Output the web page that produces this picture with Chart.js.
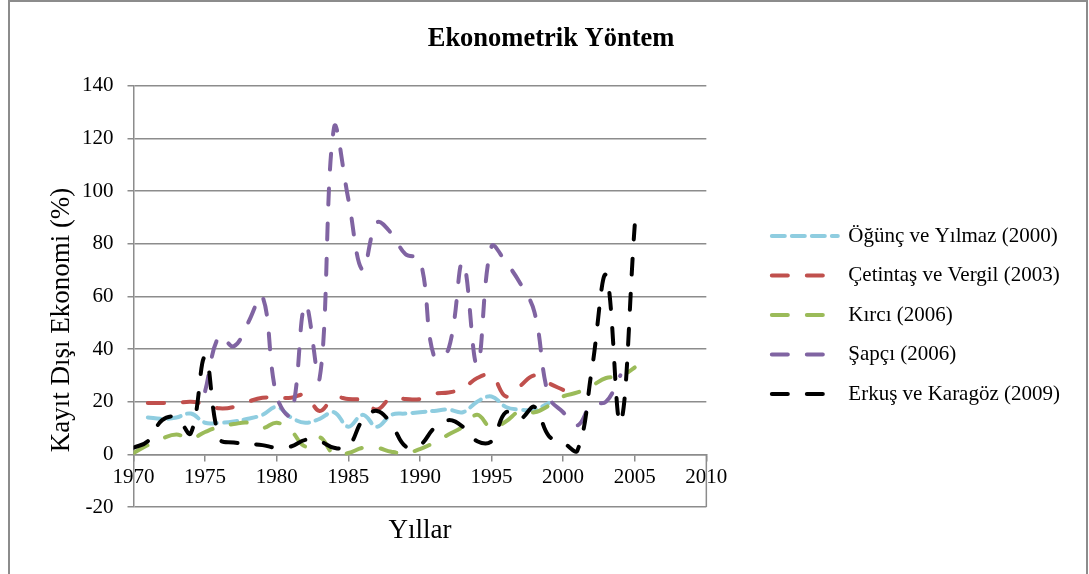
<!DOCTYPE html>
<html>
<head>
<meta charset="utf-8">
<title>Ekonometrik Yöntem</title>
<script src="https://cdn.jsdelivr.net/npm/chart.js@4.4.1/dist/chart.umd.min.js"></script>
<style>
  html, body { margin: 0; padding: 0; background: #fff; }
  canvas { display: block; }
</style>
</head>
<body>
<canvas id="chart" width="1089" height="574"></canvas>
<script>
// years on the x axis (one value per year, null = no estimate)
const years = [1970, 1971, 1972, 1973, 1974, 1975, 1976, 1977, 1978, 1979,
               1980, 1981, 1982, 1983, 1984, 1985, 1986, 1987, 1988, 1989,
               1990, 1991, 1992, 1993, 1994, 1995, 1996, 1997, 1998, 1999,
               2000, 2001, 2002, 2003, 2004, 2005];

const ogunc = [null, 14, 13.5, 14, 15.5, 12, 12, 12.5, 13.5, 15,
               18, 14, 12, 13.5, 16, 10.5, 15, 10.5, 15, 15.5,
               16, 16.5, 17, 16, 20, 22, 18, 17, 17, 19.5,
               null, null, null, null, null, null];

const cetintas = [null, 19.5, 19.5, 19.5, 20, 19, 17.5, 18, 20, 21.5,
                  21.5, 21.5, 22.5, 16.5, 21.5, 21, 20.5, 17, 21.5, 21,
                  21, 23, 23.5, 25, 29, 30, 22, 26, 30, 27,
                  24.5, null, null, null, null, null];

const kirci = [0.5, 3.5, 6, 7.5, 6, 8.5, 10.5, 11.5, 12, 10,
               12, 9, 3, 6.5, 0, 0.5, 2.5, 2.5, 1, 0.5,
               2, 4.5, 7.5, 10.5, 15, 10, 12.5, 16.5, 16, 18.5,
               22, 23.5, 26, 29, 29.5, 33];

const sapci = [null, null, null, null, null, 24, 45, 41, 50, 60,
               22, 15, 57, 29, 124, 97, 70, 88, 84, 76,
               74, 37, 40, 73, 34, 79, 73, 65, 54, 22,
               16, 11, 19, 20, 30, null];

const erkus = [2.5, 5, 13, 14, 8, 37, 6, 4.5, 4, 3.5,
               2.5, 3, 5.5, 5, 2.5, 3, 13, 16.5, 11.5, 3,
               3.5, 10, 13, 10.5, 5, 5, 16, 13.5, 18, 7,
               4.5, 1.5, 32, 68, 12, 87];

const xTicks = [1970, 1975, 1980, 1985, 1990, 1995, 2000, 2005, 2010];
const yTicks = [-20, 0, 20, 40, 60, 80, 100, 120, 140];

const serif = "'Liberation Serif', 'Times New Roman', serif";
const gridGray = '#8c8c8c';

function toPoints(values) {
  return years
    .map((yr, i) => ({ x: yr, y: values[i] }))
    .filter(p => p.y !== null);
}

// series look (Excel dashed smooth lines)
const series = [
  { label: 'Öğünç ve Yılmaz (2000)', values: ogunc, color: '#8fcde0', dash: [13, 7] },
  { label: 'Çetintaş ve Vergil (2003)', values: cetintas, color: '#c0504d', dash: [16, 19] },
  { label: 'Kırcı (2006)', values: kirci, color: '#9bbb59', dash: [16, 19] },
  { label: 'Şapçı (2006)', values: sapci, color: '#8064a2', dash: [16, 19] },
  { label: 'Erkuş ve Karagöz (2009)', values: erkus, color: '#000000', dash: [16, 19] }
];

const datasets = series.map((s, i) => ({
  label: s.label,
  data: toPoints(s.values),
  borderColor: s.color,
  backgroundColor: s.color,
  borderWidth: 4,
  borderDash: s.dash,
  borderCapStyle: 'round',
  pointRadius: 0,
  pointHoverRadius: 0,
  tension: 0.4,
  fill: false,
  order: series.length - 1 - i   // later series drawn on top, like Excel
}));

// outer frame of the chart object
const framePlugin = {
  id: 'frame',
  beforeDraw(chart) {
    const ctx = chart.ctx;
    ctx.save();
    ctx.fillStyle = '#fff';
    ctx.fillRect(0, 0, chart.width, chart.height);
    ctx.strokeStyle = gridGray;
    ctx.lineWidth = 2;
    ctx.strokeRect(9, 1, chart.width - 11, chart.height + 10);
    ctx.restore();
  }
};

// axis titles: "Yıllar" sits under the -20 line, the y title is a bit below centre
const axisTitlePlugin = {
  id: 'axisTitles',
  afterDraw(chart) {
    const { ctx, chartArea, scales } = chart;
    ctx.save();
    // short closing line at the right end, between 0 and -20
    const xr = scales.x.getPixelForValue(xTicks[xTicks.length - 1]);
    ctx.strokeStyle = gridGray;
    ctx.lineWidth = 1.5;
    ctx.beginPath();
    ctx.moveTo(xr, scales.y.getPixelForValue(0));
    ctx.lineTo(xr, scales.y.getPixelForValue(yTicks[0]));
    ctx.stroke();

    ctx.font = '27px ' + serif;
    ctx.fillStyle = '#000';
    ctx.textAlign = 'center';
    ctx.textBaseline = 'middle';
    ctx.fillText('Yıllar', (chartArea.left + chartArea.right) / 2, chartArea.bottom + 24);
    ctx.translate(62, 320);
    ctx.rotate(-Math.PI / 2);
    ctx.fillText('Kayıt Dışı Ekonomi (%)', 0, 0);
    ctx.restore();
  }
};

new Chart(document.getElementById('chart'), {
  type: 'line',
  data: { datasets: datasets },
  options: {
    responsive: false,
    animation: false,
    devicePixelRatio: 1,
    layout: { padding: { top: 5, left: 32, right: 19, bottom: 67 } },
    scales: {
      x: {
        type: 'linear',
        position: { y: 0 },
        min: xTicks[0],
        max: xTicks[xTicks.length - 1],
        ticks: {
          stepSize: xTicks[1] - xTicks[0],
          padding: 5,
          color: '#000',
          maxRotation: 0,
          autoSkip: false,
          font: { family: serif, size: 21 },
          callback: v => String(v)
        },
        grid: { drawOnChartArea: false, drawTicks: true, tickLength: 6, color: gridGray, lineWidth: 1.5 },
        border: { color: gridGray, width: 1.5 }
      },
      y: {
        min: yTicks[0],
        max: yTicks[yTicks.length - 1],
        ticks: {
          stepSize: yTicks[1] - yTicks[0],
          padding: 14,
          color: '#000',
          font: { family: serif, size: 21 }
        },
        grid: { color: gridGray, lineWidth: 1.5, tickLength: 6 },
        border: { color: gridGray, width: 1.5 },
        afterFit(scale) { scale.width = 101.5; }
      },
      gap: {
        // empty axis that keeps the space between plot and legend
        type: 'linear',
        position: 'right',
        display: true,
        grid: { display: false },
        border: { display: false },
        ticks: { display: false },
        afterFit(scale) { scale.width = 47; }
      }
    },
    plugins: {
      title: {
        display: true,
        text: 'Ekonometrik Yöntem',
        color: '#000',
        font: { family: serif, size: 26.5, weight: 'bold' },
        padding: { top: 18, bottom: 31 }
      },
      legend: {
        position: 'right',
        maxWidth: 330,
        title: { display: true, text: '', font: { size: 10 }, padding: { top: 106, bottom: 0 } },
        labels: {
          usePointStyle: true,
          pointStyle: 'line',
          pointStyleWidth: 66,
          padding: 18.5,
          color: '#000',
          font: { family: serif, size: 21 },
          sort: (a, b) => a.datasetIndex - b.datasetIndex,
          generateLabels(chart) {
            const items = Chart.defaults.plugins.legend.labels.generateLabels(chart);
            items.forEach(item => {
              const ds = chart.data.datasets[item.datasetIndex];
              item.lineDash = ds.borderDash;
              item.lineCap = ds.borderCapStyle;
              item.lineWidth = ds.borderWidth;
              item.strokeStyle = ds.borderColor;
            });
            return items;
          }
        }
      },
      tooltip: { enabled: false }
    }
  },
  plugins: [framePlugin, axisTitlePlugin]
});
</script>
</body>
</html>
